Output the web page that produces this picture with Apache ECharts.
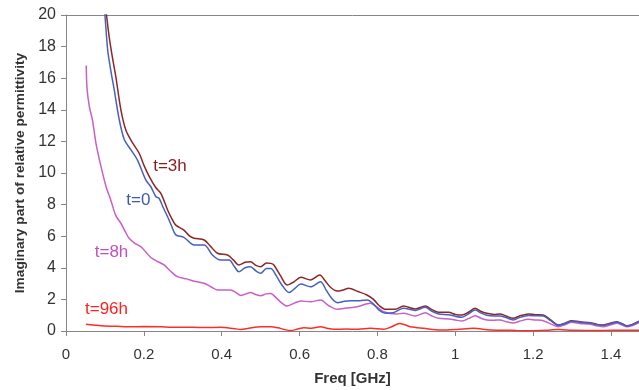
<!DOCTYPE html>
<html>
<head>
<meta charset="utf-8">
<script src="https://cdn.jsdelivr.net/npm/echarts@6/dist/echarts.min.js"></script>
<style>
    html, body { margin: 0; padding: 0; background: #fff; }
    #chart { width: 639px; height: 390px; }
</style>
</head>
<body>
<div id="chart"></div>
<script>
// frequency [GHz] / imaginary permittivity pairs
const t0 = [
    [0.095, 21.3], [0.100, 20], [0.107, 17.8], [0.115, 16.5], [0.124, 15.25], [0.137, 13.35], [0.150, 12.1],
    [0.167, 11.46], [0.184, 10.8], [0.205, 9.56], [0.218, 9.13], [0.231, 8.5], [0.239, 8.4], [0.250, 7.8],
    [0.261, 7.23], [0.272, 6.6], [0.282, 6.08], [0.303, 5.93], [0.318, 5.6], [0.329, 5.44], [0.355, 5.44],
    [0.376, 4.81], [0.397, 4.49], [0.419, 4.49], [0.432, 4.1], [0.444, 3.75], [0.460, 4.0], [0.474, 4.07],
    [0.488, 3.8], [0.500, 3.65], [0.515, 3.95], [0.526, 3.95], [0.540, 3.5], [0.555, 2.9], [0.573, 2.43],
    [0.588, 2.7], [0.603, 2.97], [0.628, 2.8], [0.654, 3.12], [0.668, 2.6], [0.683, 2.05], [0.697, 1.79],
    [0.715, 1.88], [0.731, 1.92], [0.755, 1.92], [0.774, 1.96], [0.790, 1.7], [0.805, 1.3], [0.821, 1.12],
    [0.840, 1.15], [0.867, 1.44], [0.897, 1.3], [0.923, 1.5], [0.940, 1.25], [0.957, 1.08], [0.983, 1.03],
    [1.000, 0.93], [1.017, 0.87], [1.035, 1.1], [1.051, 1.33], [1.065, 1.15], [1.081, 1.0], [1.100, 0.95],
    [1.115, 0.95], [1.130, 0.85], [1.149, 0.7], [1.165, 0.85], [1.188, 0.98], [1.205, 0.97], [1.226, 0.95],
    [1.245, 0.65], [1.265, 0.36], [1.282, 0.47], [1.299, 0.62], [1.320, 0.55], [1.346, 0.5], [1.365, 0.4],
    [1.380, 0.36], [1.400, 0.47], [1.415, 0.56], [1.430, 0.43], [1.440, 0.32], [1.455, 0.4], [1.472, 0.6]
]
const t3h = [
    [0.097, 21.4], [0.104, 20], [0.111, 18.6], [0.120, 17.2], [0.128, 16.1], [0.141, 14.0], [0.154, 12.7],
    [0.171, 11.9], [0.188, 11.25], [0.200, 10.5], [0.214, 9.77], [0.230, 9.1], [0.244, 8.7], [0.261, 7.66],
    [0.272, 7.1], [0.282, 6.7], [0.303, 6.39], [0.318, 6.0], [0.329, 5.87], [0.355, 5.76], [0.372, 5.34],
    [0.389, 4.92], [0.415, 4.81], [0.430, 4.5], [0.444, 4.18], [0.460, 4.35], [0.474, 4.39], [0.488, 4.15],
    [0.500, 4.07], [0.515, 4.3], [0.526, 4.28], [0.534, 4.18], [0.551, 3.5], [0.568, 2.91], [0.585, 3.1],
    [0.603, 3.4], [0.628, 3.23], [0.652, 3.54], [0.665, 3.2], [0.680, 2.75], [0.697, 2.53], [0.712, 2.6],
    [0.726, 2.7], [0.750, 2.5], [0.773, 2.28], [0.790, 2.0], [0.805, 1.6], [0.821, 1.37], [0.846, 1.37],
    [0.867, 1.58], [0.897, 1.39], [0.923, 1.58], [0.940, 1.35], [0.957, 1.18], [0.983, 1.18], [1.000, 1.05],
    [1.017, 1.01], [1.035, 1.2], [1.051, 1.44], [1.065, 1.25], [1.081, 1.12], [1.100, 1.05], [1.115, 1.08],
    [1.130, 0.95], [1.149, 0.8], [1.165, 0.95], [1.188, 1.08], [1.205, 1.03], [1.226, 1.01], [1.245, 0.7],
    [1.265, 0.38], [1.282, 0.5], [1.299, 0.65], [1.320, 0.58], [1.346, 0.53], [1.365, 0.42], [1.380, 0.38],
    [1.400, 0.5], [1.415, 0.59], [1.430, 0.45], [1.440, 0.34], [1.455, 0.42], [1.472, 0.62]
]
const t8h = [
    [0.052, 16.8], [0.054, 15.36], [0.060, 14.2], [0.068, 13.35], [0.077, 11.88], [0.090, 10.4], [0.103, 9.13],
    [0.115, 8.29], [0.128, 7.3], [0.141, 6.82], [0.152, 6.3], [0.162, 5.87], [0.177, 5.55], [0.192, 5.34],
    [0.205, 5.0], [0.218, 4.65], [0.235, 4.4], [0.252, 4.18], [0.268, 3.8], [0.286, 3.44], [0.310, 3.3],
    [0.329, 3.15], [0.355, 3.02], [0.372, 2.8], [0.389, 2.6], [0.423, 2.6], [0.436, 2.45], [0.449, 2.25],
    [0.462, 2.35], [0.474, 2.43], [0.488, 2.3], [0.500, 2.23], [0.514, 2.35], [0.526, 2.37], [0.540, 2.1],
    [0.553, 1.8], [0.568, 1.58], [0.585, 1.75], [0.603, 1.9], [0.628, 1.85], [0.654, 1.96], [0.675, 1.6],
    [0.697, 1.37], [0.720, 1.45], [0.748, 1.54], [0.782, 1.75], [0.800, 1.5], [0.816, 1.22], [0.850, 1.08],
    [0.867, 1.12], [0.897, 0.95], [0.923, 1.16], [0.940, 0.95], [0.957, 0.8], [0.983, 0.76], [1.000, 0.7],
    [1.017, 0.63], [1.035, 0.8], [1.051, 0.97], [1.065, 0.82], [1.081, 0.7], [1.100, 0.68], [1.115, 0.7],
    [1.130, 0.6], [1.149, 0.51], [1.165, 0.62], [1.188, 0.74], [1.205, 0.7], [1.226, 0.65], [1.245, 0.45],
    [1.265, 0.27], [1.282, 0.4], [1.299, 0.55], [1.320, 0.48], [1.346, 0.42], [1.365, 0.32], [1.380, 0.27],
    [1.400, 0.4], [1.415, 0.49], [1.430, 0.36], [1.440, 0.27], [1.455, 0.35], [1.472, 0.53]
]
const t96h = [
    [0.051, 0.42], [0.070, 0.38], [0.098, 0.32], [0.130, 0.3], [0.158, 0.27], [0.200, 0.28], [0.244, 0.27],
    [0.270, 0.23], [0.300, 0.24], [0.329, 0.23], [0.360, 0.22], [0.397, 0.23], [0.430, 0.16], [0.449, 0.1],
    [0.470, 0.18], [0.500, 0.27], [0.526, 0.27], [0.545, 0.2], [0.560, 0.1], [0.577, 0.03], [0.595, 0.12],
    [0.611, 0.21], [0.630, 0.18], [0.654, 0.27], [0.670, 0.18], [0.688, 0.11], [0.720, 0.12], [0.750, 0.11],
    [0.782, 0.17], [0.816, 0.11], [0.835, 0.25], [0.857, 0.48], [0.872, 0.38], [0.885, 0.27], [0.919, 0.17],
    [0.962, 0.06], [1.004, 0.1], [1.047, 0.17], [1.090, 0.06], [1.120, 0.05], [1.158, 0.03], [1.200, 0.02],
    [1.240, 0.05], [1.265, 0.1], [1.300, 0.04], [1.350, 0.03], [1.410, 0.04], [1.472, 0.05]
]

const seriesNames = ['t=0', 't=3h', 't=8h', 't=96h']
const yTicks = { min: 0, max: 20, step: 2 }
const xTicks = { min: 0, max: 1.472, step: 0.2 }

// where the in-plot labels sit (data coords)
const labelAnchors = [[0.1859, 8.29], [0.267, 10.41], [0.117, 4.98], [0.104, 1.39]]
const lineColors = ['#4262c2', '#8e2626', '#c95fc9', '#ff2c2c']
const textColors = ['#3a5ab4', '#8b1c1c', '#c050c0', '#ff2020']

let chart = echarts.init(document.querySelector('#chart'), null, { renderer: 'canvas' })

const font = "'Liberation Sans', Arial, sans-serif"
const axisGray = '#868686'

function makeSeries(name, data, i) {
    return {
        name: name,
        type: 'line',
        data: data,
        showSymbol: false,
        smooth: 0.3,
        clip: true,
        lineStyle: { color: lineColors[i], width: 1.5 },
        z: 10 - i,
        markPoint: {
            symbol: 'circle',
            symbolSize: 0,
            animation: false,
            label: {
                show: true,
                formatter: name,
                color: textColors[i],
                fontSize: 17,
                fontFamily: font
            },
            data: [{ coord: labelAnchors[i] }]
        }
    }
}

let option = {
    animation: false,
    grid: { left: 66, right: 0, top: 15, bottom: 59, outerBoundsMode: 'none' },
    xAxis: [{
        type: 'value',
        min: xTicks.min,
        max: xTicks.max,
        interval: xTicks.step,
        name: 'Freq [GHz]',
        nameLocation: 'middle',
        nameGap: 40,
        nameTextStyle: { fontSize: 15, fontWeight: 'bold', color: '#333', fontFamily: font },
        axisLine: { show: true, lineStyle: { color: axisGray, width: 1 } },
        axisTick: { show: true, length: 5, lineStyle: { color: axisGray } },
        axisLabel: {
            fontSize: 15, color: '#333', fontFamily: font, margin: 16,
            showMaxLabel: false,
            formatter: (v) => String(+v.toFixed(1))
        },
        splitLine: { show: false }
    }, {
        type: 'value',
        position: 'top',
        min: xTicks.min,
        max: xTicks.max,
        axisLine: { show: true, lineStyle: { color: axisGray, width: 1 } },
        axisTick: { show: false },
        axisLabel: { show: false },
        splitLine: { show: false }
    }],
    yAxis: {
        type: 'value',
        min: yTicks.min,
        max: yTicks.max,
        interval: yTicks.step,
        name: 'Imaginary part of relative permittivity',
        nameLocation: 'middle',
        nameGap: 30,
        nameTextStyle: { fontSize: 13.7, fontWeight: 'bold', color: '#333', fontFamily: font },
        axisLine: { show: true, lineStyle: { color: axisGray, width: 1 } },
        axisTick: { show: true, length: 5, lineStyle: { color: axisGray } },
        axisLabel: { fontSize: 16, color: '#333', fontFamily: font, margin: 10 },
        splitLine: { show: false }
    },
    series: [t0, t3h, t8h, t96h].map((d, i) => makeSeries(seriesNames[i], d, i))
}

chart.setOption(option)
</script>
</body>
</html>
